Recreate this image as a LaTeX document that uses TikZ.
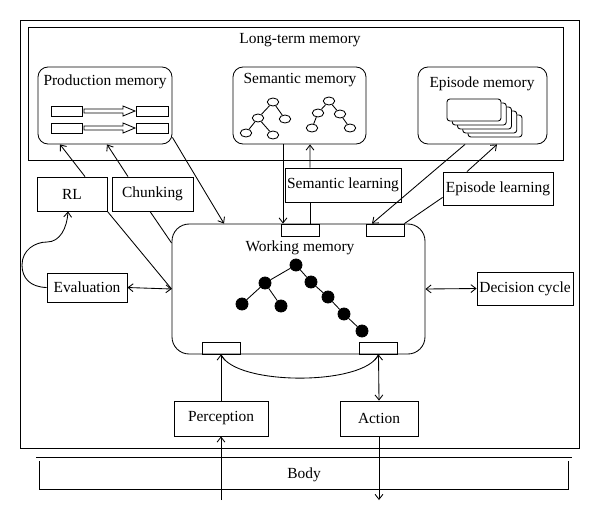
\documentclass[tikz,border=0pt]{standalone}
\usepackage{fontspec}
\setmainfont{Liberation Serif}
\usepackage{tikz}
\usetikzlibrary{positioning,arrows.meta,calc,shapes.geometric}

\begin{document}
\begin{tikzpicture}[x=0.7pt, y=-0.7pt, >={Straight Barb[length=3.5pt,width=5.5pt]}, line width=0.6pt,
  every node/.style={font=\fontsize{10.8}{12}\selectfont},
  box/.style={draw, rectangle, inner sep=1pt, align=center},
  membox/.style={draw, rectangle, rounded corners=7pt, inner sep=0pt},
  port/.style={draw, rectangle, inner sep=0pt, minimum width=26.6pt, minimum height=8.4pt},
  snode/.style={draw, ellipse, fill=white, inner sep=0pt, minimum width=8pt, minimum height=5.6pt},
  wnode/.style={draw, circle, fill=black, inner sep=0pt, minimum size=8.4pt}]
\useasboundingbox (0,0) rectangle (600,521);

% frames
\node[draw, rectangle, inner sep=0pt, minimum width=391.3pt, minimum height=299.6pt] (agent) at (299.5,234) {};
\node[draw, rectangle, inner sep=0pt, minimum width=374.5pt, minimum height=93.1pt] (ltm) at (295.5,93.5) {};
\node (ltmlabel) at (300,40) {Long-term memory};

% long-term memories
\node[membox, minimum width=93.8pt, minimum height=53.9pt] (prod) at (105,105.5) {};
\node[membox, minimum width=93.1pt, minimum height=53.9pt] (sem) at (299.5,105.5) {};
\node[membox, minimum width=90.3pt, minimum height=53.9pt] (epi) at (482.5,105.5) {};
\node (prodlabel) at (105,82) {Production memory};
\node (semlabel) at (300,80) {Semantic memory};
\node (epilabel) at (482,84) {Episode memory};

% production rules
\draw (51,106) rectangle (82,116);
\draw (136,106) rectangle (168,116);
\draw (84,109) -- (123,109) -- (123,106) -- (135,111) -- (123,116) -- (123,113) -- (84,113) -- cycle;
\draw (51,123) rectangle (82,133);
\draw (136,123) rectangle (168,133);
\draw (84,126) -- (123,126) -- (123,123) -- (135,128) -- (123,133) -- (123,130) -- (84,130) -- cycle;

% semantic trees
\node[snode] (sa1) at (273,102) {};
\node[snode] (sa2) at (258,118) {};
\node[snode] (sa3) at (285,119) {};
\node[snode] (sa4) at (246,133) {};
\node[snode] (sa5) at (273,135) {};
\draw (sa1) -- (sa2);
\draw (sa1) -- (sa3);
\draw (sa2) -- (sa4);
\draw (sa2) -- (sa5);
\node[snode] (sb1) at (329,101) {};
\node[snode] (sb2) at (318,113) {};
\node[snode] (sb3) at (340,114) {};
\node[snode] (sb4) at (312,128) {};
\node[snode] (sb5) at (350,128) {};
\draw (sb1) -- (sb2);
\draw (sb1) -- (sb3);
\draw (sb2) -- (sb4);
\draw (sb3) -- (sb5);

% episodes
\foreach \k in {4,3,2,1,0}
  \draw[fill=white, rounded corners=2pt] ({447+5.25*\k},{99+4*\k}) rectangle ({501+5.25*\k},{121+4*\k});

% learning
\node[box, minimum width=49pt, minimum height=23.8pt] (rl) at (72,194) {RL};
\node[box, minimum width=56.7pt, minimum height=23.8pt] (chunk) at (152.5,194) {Chunking};
\node[box, minimum width=81.2pt, minimum height=23.8pt] (semlearn) at (343,185) {Semantic learning};
\node[box, minimum width=77pt, minimum height=23.1pt] (epilearn) at (498,188.5) {Episode learning};

% working memory
\node[draw, rectangle, rounded corners=12pt, inner sep=0pt, minimum width=177.1pt, minimum height=91pt] (wm) at (298.5,289) {};
\node (wmlabel) at (300,248) {Working memory};
\node[port] (portS) at (300,230) {};
\node[port] (portE) at (385,230) {};
\node[port] (portP) at (221,348) {};
\node[port] (portA) at (378.5,348) {};
\node[wnode] (w1) at (296,265) {};
\node[wnode] (w2) at (265,283) {};
\node[wnode] (w3) at (311,282) {};
\node[wnode] (w4) at (242,304) {};
\node[wnode] (w5) at (281,306) {};
\node[wnode] (w6) at (328,297) {};
\node[wnode] (w7) at (344,314) {};
\node[wnode] (w8) at (362,331) {};
\draw (w1) -- (w2);
\draw (w1) -- (w3);
\draw (w2) -- (w4);
\draw (w2) -- (w5);
\draw (w3) -- (w6);
\draw (w6) -- (w7);
\draw (w7) -- (w8);

\node[box, minimum width=56pt, minimum height=20.3pt] (eval) at (87,287.5) {Evaluation};
\node[box, minimum width=67.2pt, minimum height=23.1pt] (decision) at (525,288.5) {Decision cycle};
\node[box, minimum width=65.8pt, minimum height=24.5pt] (perception) at (221,418.5) {Perception};
\node[box, minimum width=54.6pt, minimum height=24.5pt] (action) at (379,418.5) {Action};
\node[draw, double, double distance=2.1pt, rectangle, inner sep=0pt, minimum width=372.4pt, minimum height=22.4pt] (body) at (304,475) {Body};
\coordinate (pin) at (221,500);
\coordinate (aout) at (379,500);

% connectors
\draw[->] ($(rl.north)+(13,0)$) -- ($(prod.south)+(-45,0)$);
\draw[->] ($(chunk.north)+(-24.5,0)$) -- ($(prod.south)+(2,0)$);
\draw[->] ($(prod.south east)+(0,-7)$) -- ($(wm.north)+(-74.5,0)$);
\draw (rl.south east) -- (wm.west);
\draw ($(chunk.south)+(-2.5,0)$) -- ($(wm.west)+(0,-46)$);
\draw[<->] (eval.east) -- (wm.west);
\draw[<->] (wm.east) -- (decision.west);
\draw[->] (eval.west) .. controls (30,287) and (22,278) .. (22,265) .. controls (22,250) and (35,242) .. (47,242) .. controls (60,242) and (67,228) .. ($(rl.south)+(-4,0)$);
\draw[->] ($(sem.south)+(-16.5,0)$) -- ($(portS.north)+(-17,0)$);
\draw ($(portS.north)+(10,0)$) -- ($(semlearn.south)+(-33,0)$);
\draw[->] ($(semlearn.north)+(-33,0)$) -- ($(sem.south)+(10.5,0)$);
\draw[->] ($(epi.south)+(-17.5,0)$) -- ($(portE.north)+(-13,0)$);
\draw (portE.north east) -- ($(epilearn.south west)+(0,-8)$);
\draw[->] ($(epilearn.north)+(-31,0)$) -- ($(epi.south)+(14.5,0)$);
\draw[->] (perception.north) -- (portP.south);
\draw[<->] (portA.south) -- (action.north);
\draw (portP.south) .. controls (235,386) and (365,386) .. (portA.south);
\draw[->] (pin) -- (perception.south);
\draw[->] (action.south) -- (aout);
\end{tikzpicture}
\end{document}
